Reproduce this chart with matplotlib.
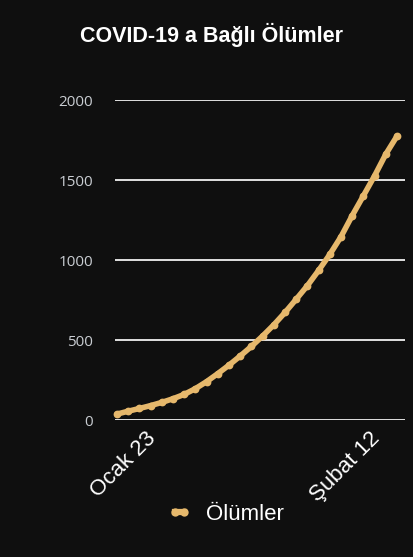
import matplotlib
matplotlib.use('Agg')
import matplotlib.pyplot as plt
from matplotlib.lines import Line2D
from matplotlib.patches import Rectangle
import matplotlib.transforms as mtransforms

# ---- data ----
dates = ['Ocak 23', 'Ocak 24', 'Ocak 25', 'Ocak 26', 'Ocak 27', 'Ocak 28', 'Ocak 29',
         'Ocak 30', 'Ocak 31', 'Şubat 1', 'Şubat 2', 'Şubat 3', 'Şubat 4', 'Şubat 5',
         'Şubat 6', 'Şubat 7', 'Şubat 8', 'Şubat 9', 'Şubat 10', 'Şubat 11', 'Şubat 12',
         'Şubat 13', 'Şubat 14', 'Şubat 15', 'Şubat 16', 'Şubat 17']
deaths = [37, 55, 72, 90, 110, 133, 160, 196, 240, 290, 343, 400, 460, 525, 595,
          672, 755, 840, 935, 1035, 1146, 1278, 1402, 1527, 1662, 1775]
shown_labels = ['Ocak 23', 'Şubat 12']
yticks = [0, 500, 1000, 1500, 2000]
title = 'COVID-19 a Bağlı Ölümler'
series_name = 'Ölümler'

# ---- style ----
BG = '#0f0f0f'
GOLD = '#e6b86c'
W, H = 414, 560
DPI = 100

fig = plt.figure(figsize=(W / DPI, H / DPI), dpi=DPI, facecolor=BG)
ax = fig.add_axes([115 / W, 1 - 420 / H, 290 / W, 320 / H], facecolor=BG)

x = list(range(len(dates)))
ax.plot(x, deaths, color=GOLD, lw=4.0, marker='o', ms=5.6, mec=GOLD, mew=0,
        solid_capstyle='round', solid_joinstyle='round', clip_on=False, zorder=3)

ax.set_xlim(-0.18, 25.71)
ax.set_ylim(0, 2000)

for s in ax.spines.values():
    s.set_visible(False)

ax.set_yticks(yticks)
ax.set_yticklabels([str(v) for v in yticks])
ax.yaxis.grid(True, color='#f0f0f0', lw=1.3)
ax.set_axisbelow(True)
ax.tick_params(axis='y', length=0, pad=15.8, labelsize=11, labelcolor='#c9cdd2')
for lab in ax.get_yticklabels():
    lab.set_fontfamily('Open Sans')

xt = [dates.index(s) for s in shown_labels]
ax.set_xticks(xt)
ax.set_xticklabels(shown_labels)
ax.tick_params(axis='x', length=0, pad=0, labelcolor='white')
offset = mtransforms.ScaledTranslation(40 / DPI, -19 / DPI, fig.dpi_scale_trans)
for lab in ax.get_xticklabels():
    lab.set_fontfamily('Liberation Sans')
    lab.set_fontsize(16)
    lab.set_rotation(45)
    lab.set_ha('right')
    lab.set_va('baseline')
    lab.set_rotation_mode('anchor')
    lab.set_transform(lab.get_transform() + offset)

fig.text(211.5 / W, 1 - 42 / H, title, color='white', fontsize=15.5,
         fontweight='bold', family='Liberation Sans', ha='center', va='baseline')

handle = Line2D([], [], color=GOLD, lw=4.5, marker='o', ms=6, mew=0)
leg = fig.legend([handle], [series_name], loc='center',
                 bbox_to_anchor=(226 / W, 1 - 514 / H), frameon=False,
                 prop={'family': 'Liberation Sans', 'size': 16},
                 labelcolor='white', handlelength=1.0, handletextpad=0.7,
                 numpoints=2)

fig.add_artist(Rectangle((0, 0), 1, 3 / H, transform=fig.transFigure,
                         color='white', lw=0))

fig.savefig('out.png', dpi=DPI, facecolor=BG)
